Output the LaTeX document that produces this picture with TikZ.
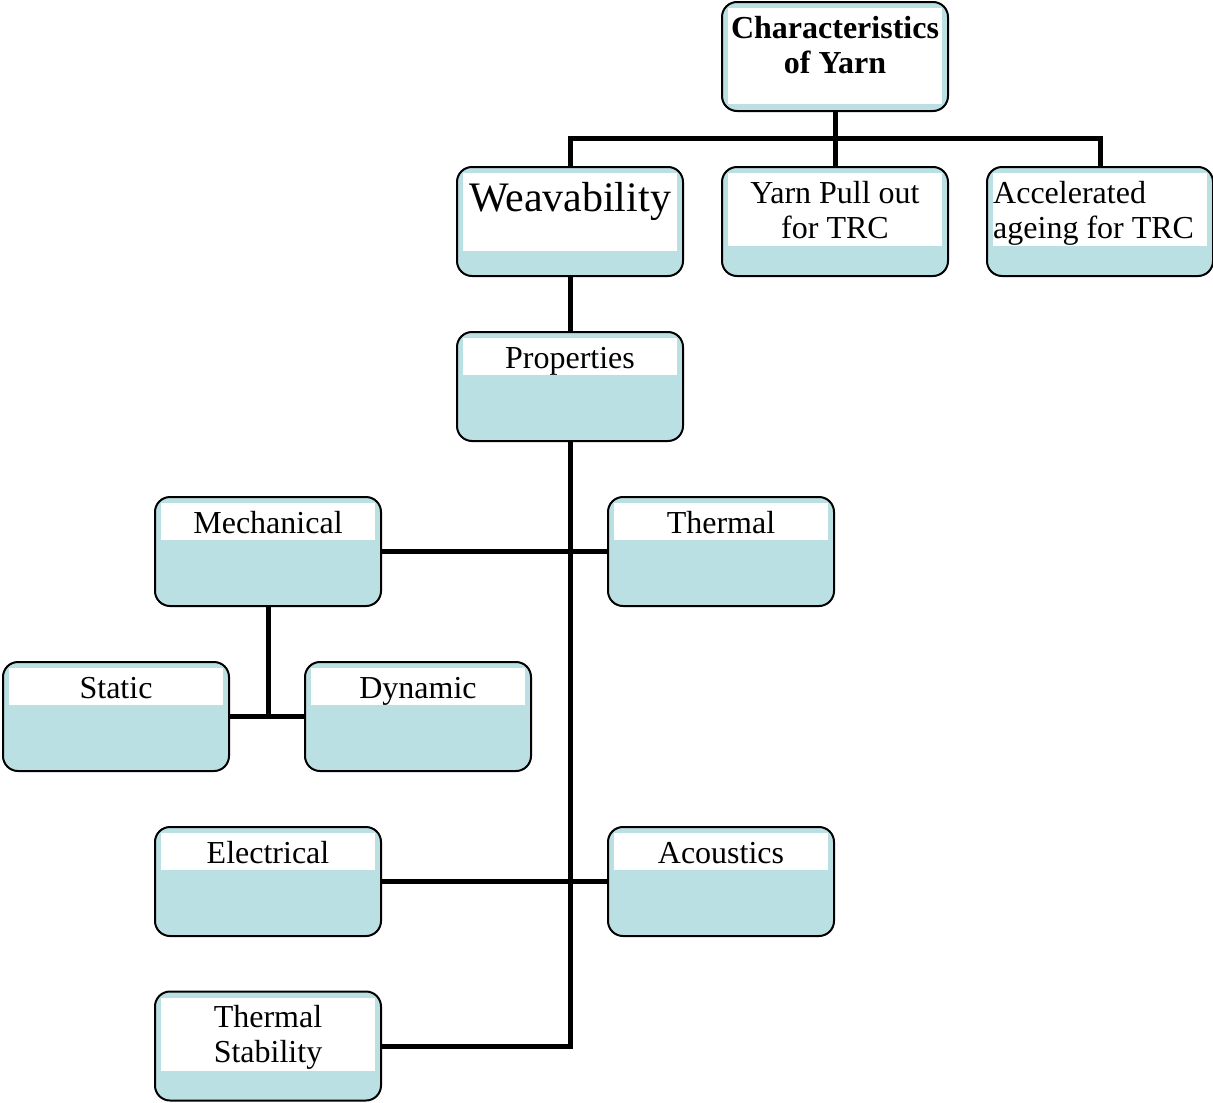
\documentclass[tikz,border=0pt]{standalone}
\usepackage{fontspec}
\setmainfont{Liberation Serif}
\usetikzlibrary{calc}
\definecolor{boxblue}{RGB}{187,224,227}
\tikzset{
  ybox/.style={draw=black, line width=2pt, fill=boxblue, rounded corners=15pt,
    minimum width=226pt, minimum height=109pt, outer sep=0pt, inner sep=0pt},
  ytext/.style={inner sep=0pt, font=\fontsize{32}{35}\selectfont},
  bigtext/.style={inner sep=0pt, font=\fontsize{42}{46}\selectfont},
  link/.style={line width=5pt}
}
% white text panel in the upper part of a box
\newcommand\whitepanel[2]{%
  \fill[white] ($(#1.north west)+(6,6)$) rectangle ($(#1.north east)+(-6,#2)$);}
\begin{document}
\begin{tikzpicture}[x=1pt,y=-1pt]
\useasboundingbox (0,0) rectangle (1213,1103);

% boxes
\node[ybox] (char)   at (835,56.5)  {};
\node[ybox] (weav)   at (570,221.5) {};
\node[ybox] (yarn)   at (835,221.5) {};
\node[ybox] (accel)  at (1100,221.5) {};
\node[ybox] (prop)   at (570,386.5) {};
\node[ybox] (mech)   at (268,551.5) {};
\node[ybox] (therm)  at (721,551.5) {};
\node[ybox] (static) at (116,716.5) {};
\node[ybox] (dyn)    at (418,716.5) {};
\node[ybox] (elec)   at (268,881.5) {};
\node[ybox] (acou)   at (721,881.5) {};
\node[ybox] (tstab)  at (268,1046)  {};

\whitepanel{char}{102}
\whitepanel{weav}{84}
\whitepanel{yarn}{79}
\whitepanel{accel}{79}
\whitepanel{prop}{43}
\whitepanel{mech}{43}
\whitepanel{therm}{43}
\whitepanel{static}{43}
\whitepanel{dyn}{43}
\whitepanel{elec}{43}
\whitepanel{acou}{43}
\whitepanel{tstab}{79}

% labels (two-line labels sit on the baseline of their last line)
\node[ytext, font=\fontsize{32}{35}\selectfont\bfseries, align=center, anchor=base] (char-t) at ($(char.north)+(0,71)$) {Characteristics\\of Yarn};
\node[bigtext, anchor=base] (weav-t) at ($(weav.north)+(0,44)$) {Weavability};
\node[ytext, align=center, anchor=base] (yarn-t) at ($(yarn.north)+(0,71)$) {Yarn Pull out\\for TRC};
\node[ytext, align=left, anchor=base west] (accel-t) at ($(accel.north west)+(6,71)$) {Accelerated\\ageing for TRC};
\node[ytext, anchor=base] (prop-t)   at ($(prop.north)+(0,36)$)   {Properties};
\node[ytext, anchor=base] (mech-t)   at ($(mech.north)+(0,36)$)   {Mechanical};
\node[ytext, anchor=base] (therm-t)  at ($(therm.north)+(0,36)$)  {Thermal};
\node[ytext, anchor=base] (static-t) at ($(static.north)+(0,36)$) {Static};
\node[ytext, anchor=base] (dyn-t)    at ($(dyn.north)+(0,36)$)    {Dynamic};
\node[ytext, anchor=base] (elec-t)   at ($(elec.north)+(0,36)$)   {Electrical};
\node[ytext, anchor=base] (acou-t)   at ($(acou.north)+(0,36)$)   {Acoustics};
\node[ytext, align=center, anchor=base] (tstab-t) at ($(tstab.north)+(0,71)$) {Thermal\\Stability};

% connectors
\coordinate (top) at (835,138);
\coordinate (split) at (268,716.5);
\draw[link] (char.south) -- (top);
\draw[link] (weav.north) |- (top) -| (accel.north);
\draw[link] (top) -- (yarn.north);
\draw[link] (weav.south) -- (prop.north);
\draw[link] (prop.south) |- (tstab.east);
\draw[link] (mech.east) -- (therm.west);
\draw[link] (elec.east) -- (acou.west);
\draw[link] (mech.south) -- (split);
\draw[link] (static.east) -- (dyn.west);
\end{tikzpicture}
\end{document}
